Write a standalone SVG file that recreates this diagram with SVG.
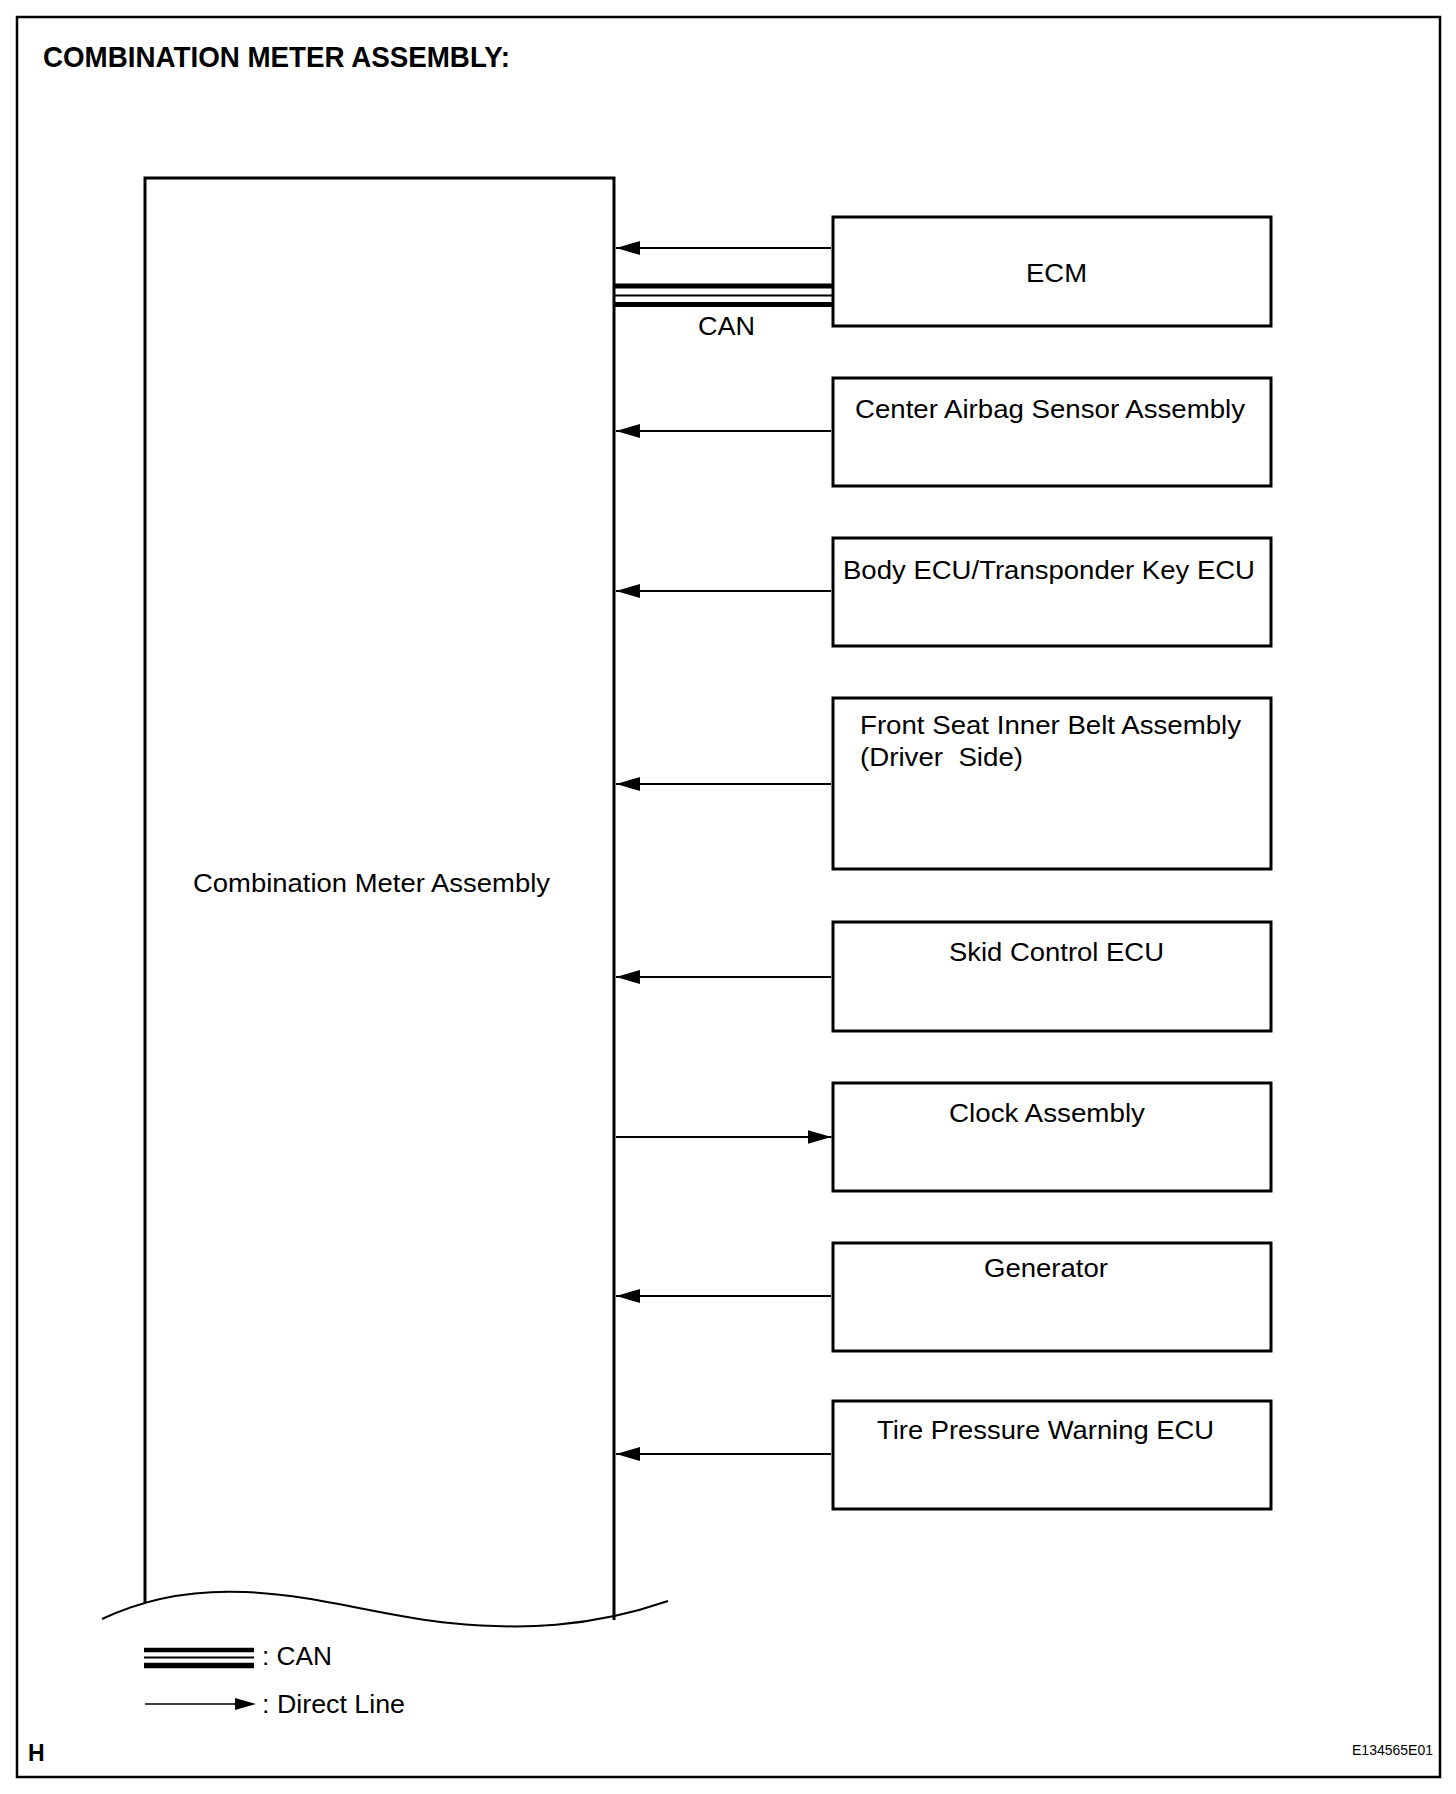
<svg xmlns="http://www.w3.org/2000/svg" width="1456" height="1794" viewBox="0 0 1456 1794">
<style>
text{font-family:"Liberation Sans",Arial,sans-serif;fill:#000}
.lbl{font-size:25px}
.box{fill:#fff;stroke:#000;stroke-width:3}
.dl{stroke:#000;stroke-width:1.8;fill:none}
.thick{stroke:#000;stroke-width:5;fill:none}
.thin{stroke:#000;stroke-width:2;fill:none}
</style>
<defs>
<marker id="arr" markerUnits="userSpaceOnUse" viewBox="0 -7 24 14" refX="24" refY="0" markerWidth="24" markerHeight="14" orient="auto">
<path d="M0,-7 L24,0 L0,7 Z" fill="#000"/>
</marker>
</defs>
<rect width="1456" height="1794" fill="#fff"/>
<rect x="17" y="17" width="1423" height="1760" fill="none" stroke="#000" stroke-width="2.5"/>
<text x="43" y="67" font-size="30" font-weight="bold" textLength="467" lengthAdjust="spacingAndGlyphs">COMBINATION METER ASSEMBLY:</text>

<g id="combination-meter">
<path d="M145,1603 L145,178 L614,178 L614,1620" fill="none" stroke="#000" stroke-width="3"/>
<path d="M102,1619 C150,1596 200,1590 245,1592 C320,1595 380,1616 450,1623 C520,1630 590,1628 668,1601" fill="none" stroke="#000" stroke-width="2"/>
<text class="lbl" x="193" y="892" textLength="357" lengthAdjust="spacingAndGlyphs">Combination Meter Assembly</text>
</g>

<g id="ecm">
<rect class="box" x="833" y="217" width="438" height="109"/>
<text class="lbl" x="1026" y="282" textLength="61" lengthAdjust="spacingAndGlyphs">ECM</text>
</g>
<g id="center-airbag">
<rect class="box" x="833" y="378" width="438" height="108"/>
<text class="lbl" x="855" y="418" textLength="390" lengthAdjust="spacingAndGlyphs">Center Airbag Sensor Assembly</text>
</g>
<g id="body-ecu">
<rect class="box" x="833" y="538" width="438" height="108"/>
<text class="lbl" x="843" y="579" textLength="412" lengthAdjust="spacingAndGlyphs">Body ECU/Transponder Key ECU</text>
</g>
<g id="front-seat-belt">
<rect class="box" x="833" y="698" width="438" height="171"/>
<text class="lbl" x="860" y="734" textLength="381" lengthAdjust="spacingAndGlyphs">Front Seat Inner Belt Assembly</text>
<text class="lbl" x="860" y="766" textLength="163" lengthAdjust="spacingAndGlyphs" xml:space="preserve">(Driver  Side)</text>
</g>
<g id="skid-control">
<rect class="box" x="833" y="922" width="438" height="109"/>
<text class="lbl" x="949" y="961" textLength="215" lengthAdjust="spacingAndGlyphs">Skid Control ECU</text>
</g>
<g id="clock">
<rect class="box" x="833" y="1083" width="438" height="108"/>
<text class="lbl" x="949" y="1122" textLength="196" lengthAdjust="spacingAndGlyphs">Clock Assembly</text>
</g>
<g id="generator">
<rect class="box" x="833" y="1243" width="438" height="108"/>
<text class="lbl" x="984" y="1277" textLength="124" lengthAdjust="spacingAndGlyphs">Generator</text>
</g>
<g id="tire-pressure">
<rect class="box" x="833" y="1401" width="438" height="108"/>
<text class="lbl" x="877" y="1439" textLength="337" lengthAdjust="spacingAndGlyphs">Tire Pressure Warning ECU</text>
</g>

<g id="connectors">
<line class="dl" x1="831" y1="248" x2="616" y2="248" marker-end="url(#arr)"/>
<line class="thick" x1="614" y1="286" x2="833" y2="286"/>
<line class="thin" x1="614" y1="295.5" x2="833" y2="295.5"/>
<line class="thick" x1="614" y1="304.5" x2="833" y2="304.5"/>
<text class="lbl" x="698" y="335" textLength="57" lengthAdjust="spacingAndGlyphs">CAN</text>
<line class="dl" x1="831" y1="431" x2="616" y2="431" marker-end="url(#arr)"/>
<line class="dl" x1="831" y1="591" x2="616" y2="591" marker-end="url(#arr)"/>
<line class="dl" x1="831" y1="784" x2="616" y2="784" marker-end="url(#arr)"/>
<line class="dl" x1="831" y1="977" x2="616" y2="977" marker-end="url(#arr)"/>
<line class="dl" x1="616" y1="1137" x2="831.5" y2="1137" marker-end="url(#arr)"/>
<line class="dl" x1="831" y1="1296" x2="616" y2="1296" marker-end="url(#arr)"/>
<line class="dl" x1="831" y1="1454" x2="616" y2="1454" marker-end="url(#arr)"/>
</g>

<g id="legend">
<line x1="144" y1="1650" x2="254" y2="1650" stroke="#000" stroke-width="4.5"/>
<line x1="144" y1="1657.5" x2="254" y2="1657.5" stroke="#000" stroke-width="2"/>
<line x1="144" y1="1665.5" x2="254" y2="1665.5" stroke="#000" stroke-width="5.5"/>
<text class="lbl" x="262" y="1665" textLength="70" lengthAdjust="spacingAndGlyphs">: CAN</text>
<line x1="145" y1="1704" x2="240" y2="1704" stroke="#000" stroke-width="1.5"/>
<path d="M235,1698 L256,1704 L235,1710 Z" fill="#000"/>
<text class="lbl" x="262" y="1713" textLength="143" lengthAdjust="spacingAndGlyphs">: Direct Line</text>
</g>

<text x="28" y="1761" font-size="23" font-weight="bold">H</text>
<text x="1352" y="1755" font-size="14.5" textLength="81" lengthAdjust="spacingAndGlyphs">E134565E01</text>
</svg>
